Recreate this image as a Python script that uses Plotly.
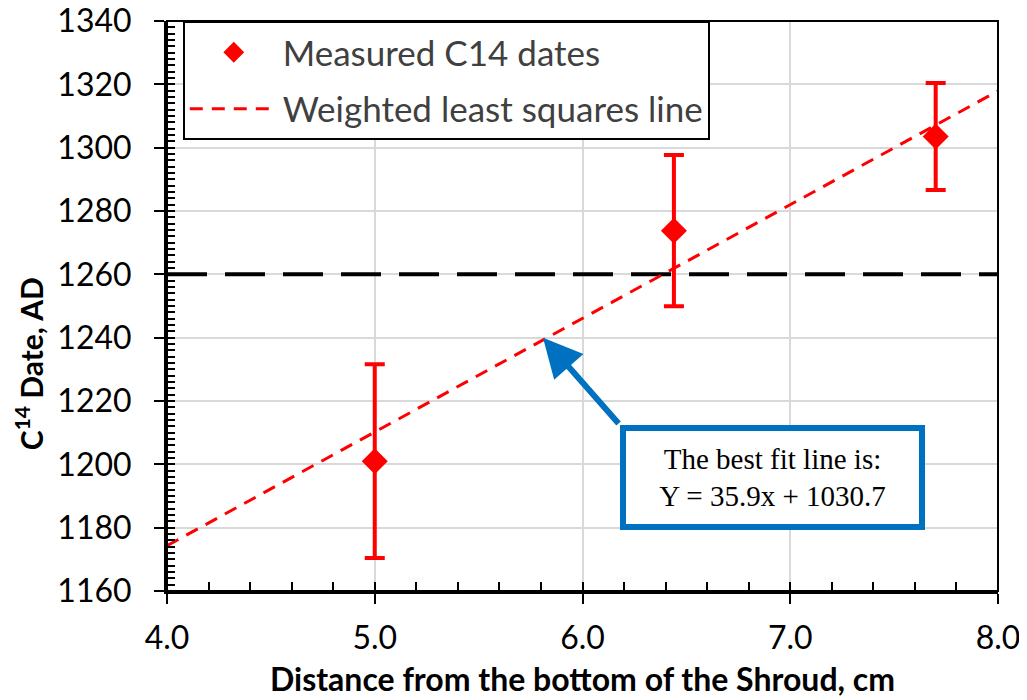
import plotly.graph_objects as go

# Data
x_pts = [5.0, 6.44, 7.70]
y_pts = [1201.0, 1273.8, 1303.5]
y_err = [30.6, 23.9, 16.9]

fit_x = [4.0, 8.0]
fit_y = [1174.3, 1317.9]

ref_x = [4.0, 8.0]
ref_y = [1260, 1260]

x_ticks = [4.0, 5.0, 6.0, 7.0, 8.0]
x_ticklabels = ["4.0", "5.0", "6.0", "7.0", "8.0"]
y_ticks = list(range(1160, 1341, 20))

arrow_tip = (5.81, 1240.0)
arrow_tail = (6.18, 1212.4)
box_text = "The best fit line is:<br>Y = 35.9x + 1030.7"

RED = "#FF0000"
BLUE = "#0070C0"
GRID = "#D9D9D9"
FONT = "Lato"

fig = go.Figure()

fig.add_trace(go.Scatter(
    x=ref_x, y=ref_y, mode="lines",
    line=dict(color="black", width=4, dash="40px,18px"),
    showlegend=False, hoverinfo="skip",
))

fig.add_trace(go.Scatter(
    x=fit_x, y=fit_y, mode="lines",
    name="Weighted least squares line",
    line=dict(color=RED, width=3, dash="13px,9px"),
    legendgroup="b", legendrank=2,
))

fig.add_trace(go.Scatter(
    x=x_pts, y=y_pts, mode="markers",
    name="Measured C14 dates",
    marker=dict(symbol="diamond", size=20, color=RED),
    error_y=dict(type="data", array=y_err, visible=True,
                 color=RED, thickness=4, width=10),
    legendgroup="a", legendrank=1,
))

fig.add_annotation(
    x=arrow_tip[0], y=arrow_tip[1], xref="x", yref="y",
    ax=arrow_tail[0], ay=arrow_tail[1], axref="x", ayref="y",
    text="", showarrow=True, arrowhead=2, arrowsize=1.3,
    arrowwidth=6, arrowcolor=BLUE, standoff=0,
)

fig.add_annotation(
    x=arrow_tail[0], y=arrow_tail[1], xref="x", yref="y",
    xanchor="left", yanchor="top", showarrow=False,
    text=box_text, align="center",
    font=dict(family="Liberation Serif", size=29, color="black"),
    bgcolor="white", bordercolor=BLUE, borderwidth=6, borderpad=9,
    width=275, height=75,
)

fig.add_annotation(
    x=-0.166, y=0.398, xref="paper", yref="paper",
    text="<b>C<sup>14</sup> Date, AD</b>", textangle=-90,
    showarrow=False, xanchor="center", yanchor="middle",
    font=dict(family=FONT, size=30, color="black"),
)

fig.add_shape(type="rect", xref="paper", yref="paper",
              x0=0, y0=0, x1=1, y1=1,
              line=dict(color="black", width=2), layer="above")

fig.update_layout(
    width=1027, height=700,
    margin=dict(l=159, r=37, t=13, b=117, autoexpand=False),
    plot_bgcolor="white", paper_bgcolor="white",
    font=dict(family=FONT, color="black"),
    showlegend=True,
    legend=dict(
        x=0.019, y=1.0, xanchor="left", yanchor="top",
        bgcolor="white", bordercolor="black", borderwidth=2,
        font=dict(family=FONT, size=35, color="#404040"),
        tracegroupgap=8, itemwidth=88,
    ),
    xaxis=dict(
        range=[4.0, 8.0], tickvals=x_ticks, ticktext=x_ticklabels,
        showgrid=True, gridcolor=GRID, gridwidth=1.5,
        showline=True, linecolor="black", linewidth=3,
        ticks="outside", ticklen=10, tickwidth=2, tickcolor="black",
        tickfont=dict(family=FONT, size=32),
        ticklabelstandoff=7, ticklabeloverflow="allow",
        minor=dict(dtick=0.2, tick0=4.0, ticks="inside", ticklen=9,
                   tickwidth=2, tickcolor="black", showgrid=False),
        title=dict(text="<b>Distance from the bottom of the Shroud, cm</b>",
                   font=dict(family=FONT, size=32), standoff=14),
        zeroline=False, automargin=False,
    ),
    yaxis=dict(
        range=[1160, 1340], tickvals=y_ticks,
        showgrid=True, gridcolor=GRID, gridwidth=1.5,
        showline=True, linecolor="black", linewidth=3,
        ticks="outside", ticklen=10, tickwidth=2, tickcolor="black",
        tickfont=dict(family=FONT, size=32),
        minor=dict(dtick=2, tick0=1160, ticks="inside", ticklen=8,
                   tickwidth=2, tickcolor="black", showgrid=False),
        ticklabelstandoff=16, ticklabeloverflow="allow",
        zeroline=False, automargin=False,
    ),
)

fig.write_html("out.html")
